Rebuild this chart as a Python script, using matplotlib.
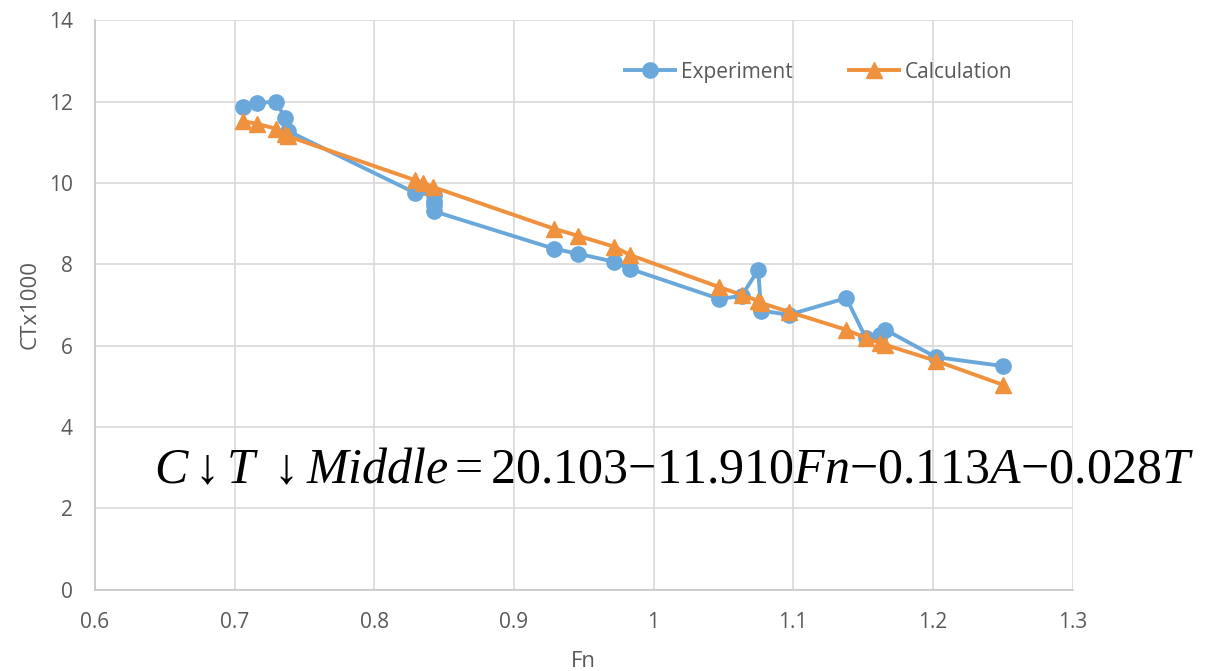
import matplotlib.pyplot as plt

# Experiment series (blue)
fn_exp = [0.706, 0.716, 0.730, 0.736, 0.738, 0.829, 0.843, 0.843, 0.843, 0.843,
          0.929, 0.946, 0.972, 0.983, 1.047, 1.063, 1.075, 1.077, 1.097,
          1.138, 1.152, 1.162, 1.166, 1.202, 1.250]
ct_exp = [11.87, 11.97, 11.99, 11.60, 11.28, 9.76, 9.70, 9.55, 9.45, 9.30,
          8.38, 8.26, 8.06, 7.89, 7.15, 7.22, 7.86, 6.86, 6.76,
          7.17, 6.19, 6.27, 6.39, 5.72, 5.50]

# Calculation series (orange)
fn_calc = [0.706, 0.716, 0.730, 0.736, 0.738, 0.829, 0.835, 0.842,
           0.929, 0.946, 0.972, 0.983, 1.047, 1.063, 1.075, 1.077, 1.097,
           1.138, 1.152, 1.162, 1.166, 1.202, 1.250]
ct_calc = [11.52, 11.45, 11.33, 11.20, 11.15, 10.07, 10.00, 9.90,
           8.87, 8.70, 8.43, 8.23, 7.44, 7.25, 7.10, 7.05, 6.83,
           6.39, 6.19, 6.07, 6.02, 5.63, 5.04]

xticks = [0.6, 0.7, 0.8, 0.9, 1, 1.1, 1.2, 1.3]
xtick_labels = ['0.6', '0.7', '0.8', '0.9', '1', '1.1', '1.2', '1.3']
yticks = [0, 2, 4, 6, 8, 10, 12, 14]

plt.rcParams['font.family'] = ['Open Sans', 'DejaVu Sans']
plt.rcParams['mathtext.fontset'] = 'custom'
plt.rcParams['mathtext.rm'] = 'Liberation Serif'
plt.rcParams['mathtext.it'] = 'Liberation Serif:italic'

fig = plt.figure(figsize=(12.16, 6.71), dpi=100)
ax = fig.add_axes([0.078, 0.121, 0.804, 0.849])

blue = '#6AA8DC'
orange = '#F0913D'
ax.plot(fn_exp, ct_exp, color=blue, lw=2.8, marker='o', ms=11, label='Experiment', zorder=3)
ax.plot(fn_calc, ct_calc, color=orange, lw=2.8, marker='^', ms=11, label='Calculation', zorder=4)

ax.set_xlim(0.6, 1.3)
ax.set_ylim(0, 14)
ax.set_xticks(xticks)
ax.set_xticklabels(xtick_labels)
ax.set_yticks(yticks)
ax.grid(True, color='#d9d9d9', lw=1.2)
ax.set_axisbelow(True)
for s in ax.spines.values():
    s.set_visible(False)
for s in ['left', 'bottom']:
    ax.spines[s].set_visible(True)
    ax.spines[s].set_color('#c8c8c8')
    ax.spines[s].set_linewidth(1.2)
ax.tick_params(length=0, labelsize=15, colors='#595959', pad=16)

ax.set_xlabel('Fn', fontsize=16, color='#595959', labelpad=13)
ax.set_ylabel('CTx1000', fontsize=16, color='#595959', labelpad=6)

ax.legend(loc='upper right', bbox_to_anchor=(0.958, 0.96), ncol=2, frameon=False,
          fontsize=15, labelcolor='#595959', columnspacing=2.7, handlelength=2.4,
          handletextpad=0.3, markerscale=1.0)

fig.text(0.127, 0.298, r'$C{\downarrow}T\ {\downarrow}Middle{=}\mathrm{20.103}{-}\mathrm{11.910}Fn{-}\mathrm{0.113}A{-}\mathrm{0.028}T$',
         fontsize=36, color='black', ha='left', va='center')

fig.savefig('out.png', dpi=100)
